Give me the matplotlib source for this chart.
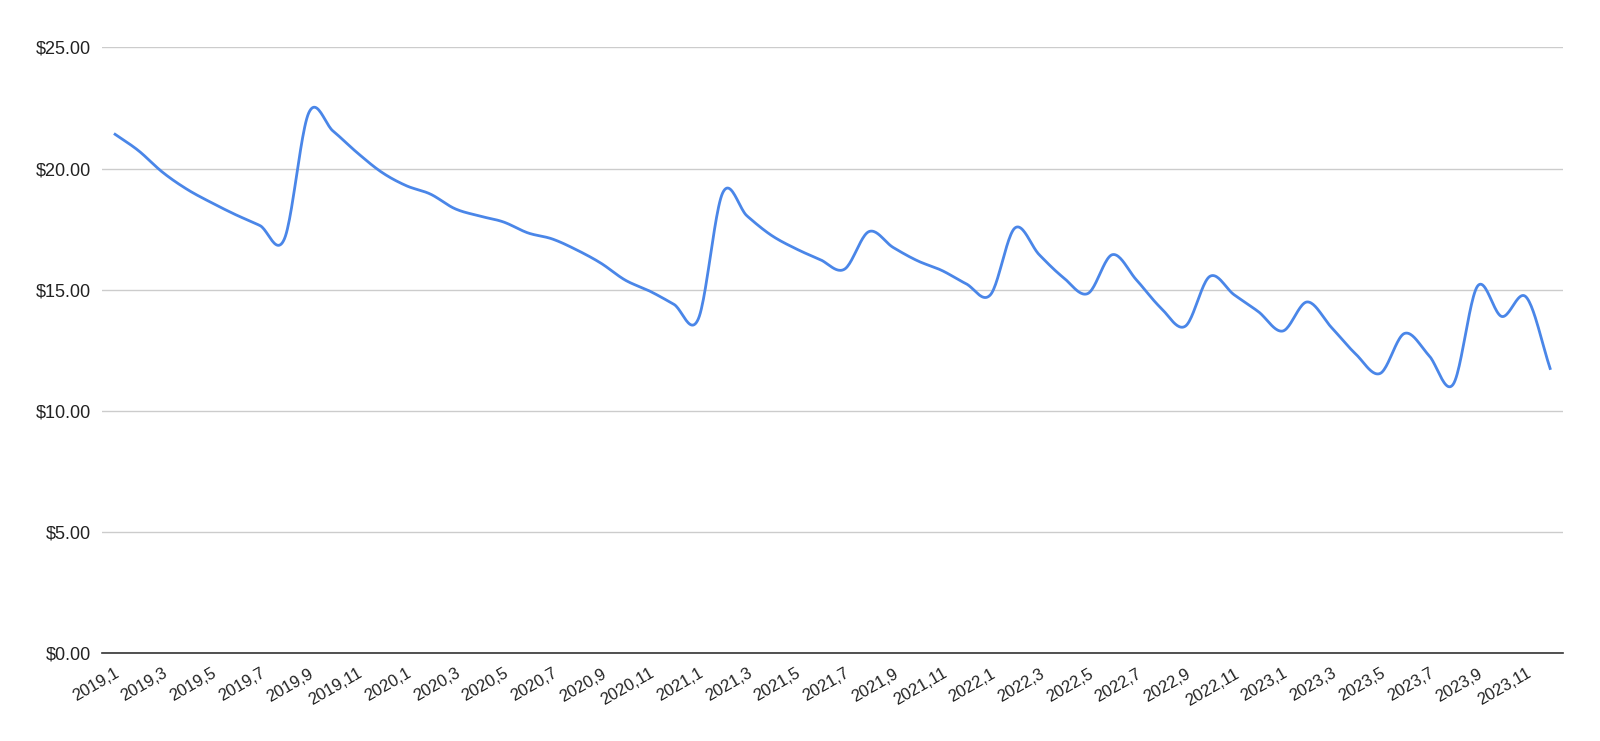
import numpy as np
import matplotlib
matplotlib.use("Agg")
import matplotlib.pyplot as plt
import matplotlib.transforms as mtransforms
from matplotlib.ticker import FuncFormatter

plt.rcParams["font.family"] = ["Liberation Sans", "DejaVu Sans"]

# Monthly data, 2019,1 .. 2023,12
years = [2019, 2020, 2021, 2022, 2023]
months = list(range(1, 13))
labels = [f"{y},{m}" for y in years for m in months]

prices = [
    21.45, 20.75, 19.85, 19.15, 18.60, 18.10, 17.65, 17.10, 22.30, 21.55, 20.65, 19.85,
    19.30, 18.95, 18.35, 18.05, 17.80, 17.35, 17.10, 16.65, 16.10, 15.40, 14.95, 14.40,
    13.80, 19.00, 18.05, 17.25, 16.70, 16.25, 15.85, 17.40, 16.75, 16.20, 15.80, 15.25,
    14.80, 17.55, 16.45, 15.50, 14.85, 16.45, 15.40, 14.25, 13.50, 15.55, 14.80, 14.10,
    13.30, 14.50, 13.45, 12.35, 11.55, 13.20, 12.30, 11.10, 15.15, 13.90, 14.70, 11.70,
]


def smooth(values, steps=24):
    """Catmull-Rom curve through the points, like the sheet's smoothed line"""
    p = np.asarray(values, dtype=float)
    p = np.concatenate([[2 * p[0] - p[1]], p, [2 * p[-1] - p[-2]]])
    xs, ys = [], []
    for i in range(1, len(p) - 2):
        m0 = (p[i + 1] - p[i - 1]) / 2
        m1 = (p[i + 2] - p[i]) / 2
        t = np.linspace(0, 1, steps, endpoint=False)
        h00 = 2 * t**3 - 3 * t**2 + 1
        h10 = t**3 - 2 * t**2 + t
        h01 = -2 * t**3 + 3 * t**2
        h11 = t**3 - t**2
        xs.append(i - 1 + t)
        ys.append(h00 * p[i] + h10 * m0 + h01 * p[i + 1] + h11 * m1)
    xs.append([len(values) - 1])
    ys.append([values[-1]])
    return np.concatenate(xs), np.concatenate(ys)


fig = plt.figure(figsize=(16, 7.41), dpi=100)
ax = fig.add_axes([0.0636, 0.1183, 0.9131, 0.8176])

sx, sy = smooth(prices)
ax.plot(sx, sy, color="#4a86e8", linewidth=2.0, solid_capstyle="butt")

ax.set_xlim(-0.5, len(prices) - 0.5)
ax.set_ylim(0, 25)
ax.set_yticks([0, 5, 10, 15, 20, 25])
ax.yaxis.set_major_formatter(FuncFormatter(lambda v, _: f"${v:.2f}"))
ax.yaxis.grid(True, color="#cccccc", linewidth=1)
ax.set_axisbelow(True)

tick_pos = list(range(0, len(prices), 2))
ax.set_xticks(tick_pos)
ax.set_xticklabels([labels[i] for i in tick_pos], rotation=30, ha="right",
                   va="top", rotation_mode="anchor")

# labels sit a little right of their tick in the original
shift = mtransforms.ScaledTranslation(5 / 72, 0, fig.dpi_scale_trans)
for lbl in ax.get_xticklabels():
    lbl.set_transform(lbl.get_transform() + shift)

for side in ["top", "right", "left"]:
    ax.spines[side].set_visible(False)
ax.spines["bottom"].set_color("#333333")
ax.spines["bottom"].set_linewidth(1.2)

ax.tick_params(axis="both", length=0, colors="#222222")
ax.tick_params(axis="y", pad=8, labelsize=13)
ax.tick_params(axis="x", pad=9, labelsize=12)

fig.savefig("out.png", dpi=100, facecolor="white")
